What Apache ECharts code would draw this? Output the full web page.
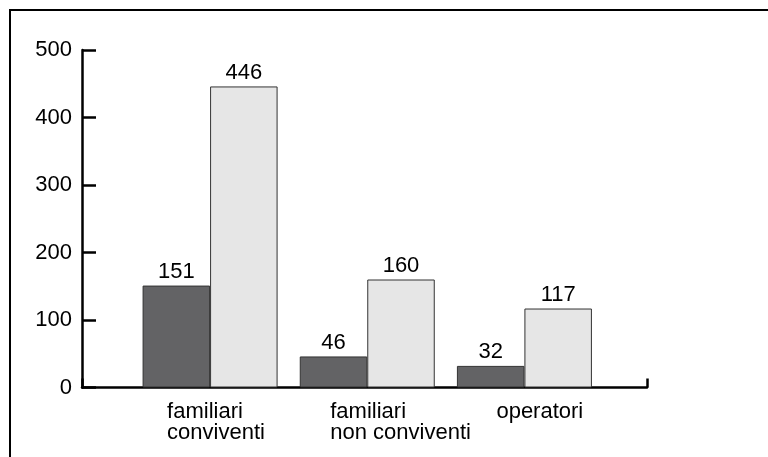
<!DOCTYPE html>
<html>
<head>
<meta charset="utf-8">
<script src="https://cdn.jsdelivr.net/npm/echarts@6/dist/echarts.min.js"></script>
<style>
  html, body { margin: 0; padding: 0; background: #fff; }
  #chart { width: 768px; height: 457px; }
</style>
</head>
<body>
<div id="chart"></div>
<script>
// categories and values
const categories = ['familiari\nconviventi', 'familiari\nnon conviventi', 'operatori'];
const darkValues = [151, 46, 32];
const lightValues = [446, 160, 117];
const yMin = 0;
const yMax = 500;
const yStep = 100;

const font = '"Liberation Sans", Arial, sans-serif';
// width of each label block, lines are left aligned inside it
const labelWidths = [86, 74, 56];

let chart = echarts.init(document.getElementById('chart'));

let rich = {};
labelWidths.forEach((w, i) => {
  rich['c' + i] = {
    width: w,
    align: 'left',
    fontSize: 22,
    lineHeight: 21,
    fontFamily: font,
    color: '#000'
  };
});

let barLabel = {
  show: true,
  position: 'top',
  distance: 3,
  fontSize: 22,
  fontFamily: font,
  color: '#000'
};

chart.setOption({
  animation: false,
  backgroundColor: '#fff',
  graphic: [{
    type: 'rect',
    shape: {x: 10, y: 10, width: 900, height: 600},
    style: {fill: 'none', stroke: '#000', lineWidth: 2},
    silent: true
  }],
  grid: [{
    left: 82,
    right: 121,
    top: 50,
    bottom: 69.5
  }, {
    left: 131.5,
    right: 165,
    top: 50,
    bottom: 69.5
  }],
  xAxis: [{
    gridIndex: 0,
    type: 'value',
    min: 0,
    max: 1,
    interval: 1,
    axisLine: {lineStyle: {color: '#000', width: 2.5}},
    axisTick: {inside: true, length: 9, lineStyle: {color: '#000', width: 2.5}},
    axisLabel: {show: false},
    splitLine: {show: false}
  }, {
    gridIndex: 1,
    type: 'category',
    data: categories,
    axisLine: {show: false},
    axisTick: {show: false},
    axisLabel: {
      margin: 14,
      align: 'center',
      formatter: (value, index) => value.split('\n').map(s => '{c' + index + '|' + s + '}').join('\n'),
      rich: rich
    }
  }],
  yAxis: [{
    gridIndex: 0,
    type: 'value',
    min: yMin,
    max: yMax,
    interval: yStep,
    axisLine: {show: true, lineStyle: {color: '#000', width: 2.5}},
    axisTick: {show: true, inside: true, length: 14, lineStyle: {color: '#000', width: 2.5}},
    axisLabel: {margin: 10, fontSize: 22, fontFamily: font, color: '#000'},
    splitLine: {show: false}
  }, {
    gridIndex: 1,
    type: 'value',
    min: yMin,
    max: yMax,
    show: false
  }],
  series: [{
    name: 'a',
    type: 'bar',
    xAxisIndex: 1,
    yAxisIndex: 1,
    barWidth: 67.5,
    barGap: '0%',
    itemStyle: {color: '#636365', borderColor: '#333', borderWidth: 1},
    label: barLabel,
    data: darkValues
  }, {
    name: 'b',
    type: 'bar',
    xAxisIndex: 1,
    yAxisIndex: 1,
    barWidth: 67.5,
    barGap: '0%',
    itemStyle: {color: '#e6e6e6', borderColor: '#333', borderWidth: 1},
    label: barLabel,
    data: lightValues
  }]
});
</script>
</body>
</html>
